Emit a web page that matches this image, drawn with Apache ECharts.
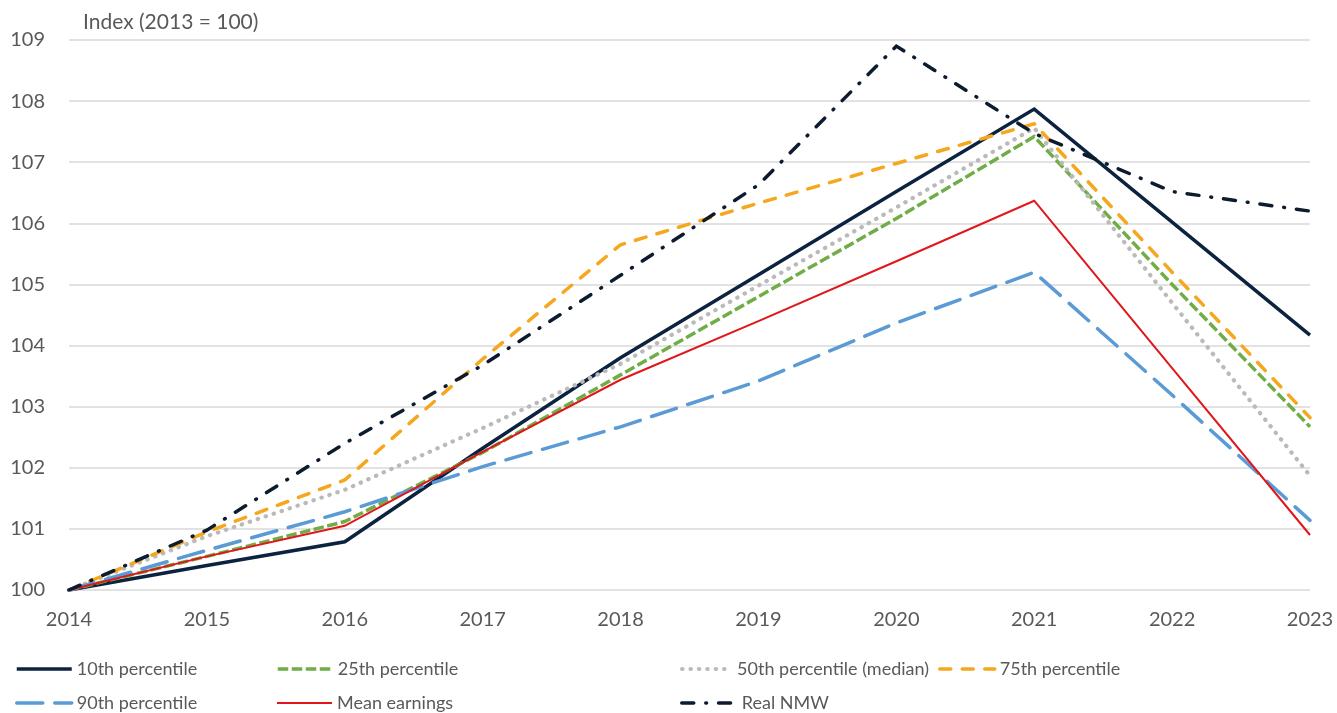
<!DOCTYPE html>
<html>
<head>
<meta charset="utf-8">
<script src="https://cdn.jsdelivr.net/npm/echarts@6/dist/echarts.min.js"></script>
<style>
html,body{margin:0;padding:0;background:#fff;}
#chart{width:1337px;height:713px;}
</style>
</head>
<body>
<div id="chart"></div>
<script>
const years = ['2014','2015','2016','2017','2018','2019','2020','2021','2022','2023'];
const p10  = [100, 100.40, 100.79, 102.32, 103.80, 105.16, 106.52, 107.87, 106.02, 104.17];
const p25  = [100, 100.55, 101.12, 102.25, 103.52, 104.80, 106.08, 107.42, 105.00, 102.67];
const p50  = [100, 100.88, 101.64, 102.65, 103.70, 104.98, 106.26, 107.56, 104.70, 101.87];
const p75  = [100, 100.95, 101.80, 103.78, 105.65, 106.33, 106.98, 107.63, 105.20, 102.82];
const p90  = [100, 100.65, 101.28, 102.02, 102.67, 103.42, 104.37, 105.20, 103.19, 101.14];
const meanEarn = [100, 100.55, 101.05, 102.26, 103.44, 104.40, 105.38, 106.37, 103.63, 100.90];
const nmw  = [100, 100.98, 102.40, 103.68, 105.15, 106.63, 108.90, 107.47, 106.52, 106.20];
const yTicks = [100, 101, 102, 103, 104, 105, 106, 107, 108, 109];
const yTitle = 'Index (2013 = 100)';

const names = ['10th percentile','25th percentile','50th percentile (median)','75th percentile','90th percentile','Mean earnings','Real NMW'];
const dataSets = [p10, p25, p50, p75, p90, meanEarn, nmw];
const styles = [
  {color:'#0c2340', width:3.5, type:'solid', cap:'butt'},
  {color:'#70ad47', width:3.5, type:[10.5,3.5], cap:'butt'},
  {color:'#bababa', width:4.2, type:[0.4,8], cap:'round'},
  {color:'#f5a71e', width:3.5, type:[11,11.5], cap:'round'},
  {color:'#5b9bd5', width:3.5, type:[26,12], cap:'round'},
  {color:'#e0161b', width:2, type:'solid', cap:'butt'},
  {color:'#0d1b2e', width:3.5, type:[12,12,0.8,12], cap:'round'}
];
const font = 'Lato, "Open Sans", sans-serif';
const legendPos = [
  {left:15, top:660}, {left:276, top:660}, {left:680, top:660}, {left:938, top:660},
  {left:15, top:694}, {left:276, top:694}, {left:680, top:694}
];

const chart = echarts.init(document.getElementById('chart'), null, {renderer:'canvas'});
chart.setOption({
  animation:false,
  backgroundColor:'#fff',
  title:{text:yTitle, left:83, top:12, padding:0, textStyle:{fontFamily:font, fontSize:21, fontWeight:'normal', color:'#595959'}},
  grid:{left:69, right:27, top:40, bottom:123, containLabel:false},
  legend: names.map((n,i)=>({
    data:[n], left:legendPos[i].left, top:legendPos[i].top, padding:0,
    itemWidth: i===2 ? 50 : 55, itemHeight:20,
    itemStyle:{opacity:0},
    lineStyle:{width:styles[i].width, type:styles[i].type, cap:styles[i].cap, color:styles[i].color},
    textStyle:{fontFamily:font, fontSize:18, color:'#595959'},
    selectedMode:false
  })),
  xAxis:{
    type:'category', data:years, boundaryGap:false,
    axisLine:{show:false}, axisTick:{show:false},
    axisLabel:{fontFamily:font, fontSize:20, color:'#595959', margin:20}
  },
  yAxis:{
    type:'value', min:yTicks[0], max:yTicks[yTicks.length-1], interval:1,
    axisLine:{show:false}, axisTick:{show:false},
    axisLabel:{fontFamily:font, fontSize:20, color:'#595959', margin:24},
    splitLine:{lineStyle:{color:'#d9d9d9', width:1.5}}
  },
  series: names.map((n,i)=>({
    name:n, type:'line', data:dataSets[i], symbol:'none', smooth:false,
    lineStyle:{color:styles[i].color, width:styles[i].width, type:styles[i].type, cap:styles[i].cap, join:'miter'},
    itemStyle:{color:styles[i].color}
  }))
});
</script>
</body>
</html>
